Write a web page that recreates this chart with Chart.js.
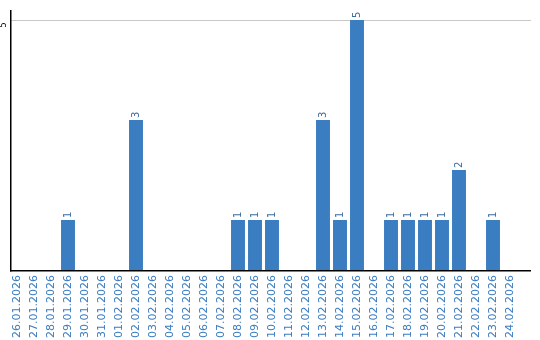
<!DOCTYPE html>
<html>
<head>
<meta charset="utf-8">
<script src="https://cdn.jsdelivr.net/npm/chart.js@4"></script>
<style>
  html, body { margin: 0; padding: 0; background: #fff; }
  #wrap { width: 540px; height: 340px; }
</style>
</head>
<body>
<div id="wrap"><canvas id="dayChart"></canvas></div>
<script>
const dates = ['26.01.2026','27.01.2026','28.01.2026','29.01.2026','30.01.2026','31.01.2026',
    '01.02.2026','02.02.2026','03.02.2026','04.02.2026','05.02.2026','06.02.2026','07.02.2026',
    '08.02.2026','09.02.2026','10.02.2026','11.02.2026','12.02.2026','13.02.2026','14.02.2026',
    '15.02.2026','16.02.2026','17.02.2026','18.02.2026','19.02.2026','20.02.2026','21.02.2026',
    '22.02.2026','23.02.2026','24.02.2026'];
const counts = [0,0,0,1,0,0, 0,3,0,0,0,0,0, 1,1,1,0,0,3,1, 5,0,1,1,1,1,2, 0,1,0];
const yTicks = [0, 5];

// grid + axis lines stretch past the category band, so draw them here
const framePlugin = {
    id: 'frame',
    beforeDatasetsDraw(chart) {
        const ctx = chart.ctx;
        const y = chart.scales.y;
        ctx.save();
        ctx.fillStyle = '#c8c8c8';
        yTicks.filter(v => v > 0).forEach(v => {
            ctx.fillRect(11, Math.round(y.getPixelForValue(v)), 520, 1);
        });
        ctx.restore();
    },
    afterDatasetsDraw(chart) {
        const ctx = chart.ctx;
        const meta = chart.getDatasetMeta(0);
        const y = chart.scales.y;
        const zero = y.getPixelForValue(0);
        ctx.save();
        ctx.fillStyle = '#000';
        ctx.fillRect(10, chart.chartArea.top, 1.5, zero - chart.chartArea.top + 1.5);
        ctx.fillRect(10, zero, 521, 1.5);

        // value labels
        ctx.font = '10px "DejaVu Sans"';
        ctx.fillStyle = '#3d6d9c';
        ctx.textAlign = 'left';
        ctx.textBaseline = 'middle';
        meta.data.forEach((bar, i) => {
            if (!counts[i]) return;
            ctx.save();
            ctx.translate(bar.x, bar.y - 2);
            ctx.rotate(-Math.PI / 2);
            ctx.fillText(String(counts[i]), 0, 0);
            ctx.restore();
        });

        // y tick, rotated
        ctx.fillStyle = '#000';
        ctx.font = '8px "DejaVu Sans"';
        ctx.textAlign = 'center';
        yTicks.filter(v => v > 0).forEach(v => {
            ctx.save();
            ctx.translate(4, y.getPixelForValue(v) + 5);
            ctx.rotate(-Math.PI / 2);
            ctx.fillText(String(v), 0, 0);
            ctx.restore();
        });
        ctx.restore();
    }
};

new Chart(document.getElementById('dayChart').getContext('2d'), {
    type: 'bar',
    data: {
        labels: dates,
        datasets: [{
            data: counts,
            backgroundColor: '#3a7dc1',
            barPercentage: 0.82,
            categoryPercentage: 1.0
        }]
    },
    options: {
        responsive: true,
        maintainAspectRatio: false,
        animation: false,
        layout: { padding: { top: 10, right: 21.5, left: 0, bottom: 0 } },
        plugins: { legend: { display: false }, tooltip: { enabled: false } },
        scales: {
            x: {
                grid: { display: false, drawTicks: false },
                border: { display: false },
                ticks: {
                    color: '#3a7cc0',
                    font: { family: 'DejaVu Sans', size: 11 },
                    minRotation: 90,
                    maxRotation: 90,
                    autoSkip: false,
                    padding: 5
                },
                afterFit: s => { s.height = 70; }
            },
            y: {
                min: 0,
                max: 5.2,
                grid: { display: false },
                border: { display: false },
                ticks: { display: false },
                afterFit: s => { s.width = 8.5; }
            }
        }
    },
    plugins: [framePlugin]
});
</script>
</body>
</html>
